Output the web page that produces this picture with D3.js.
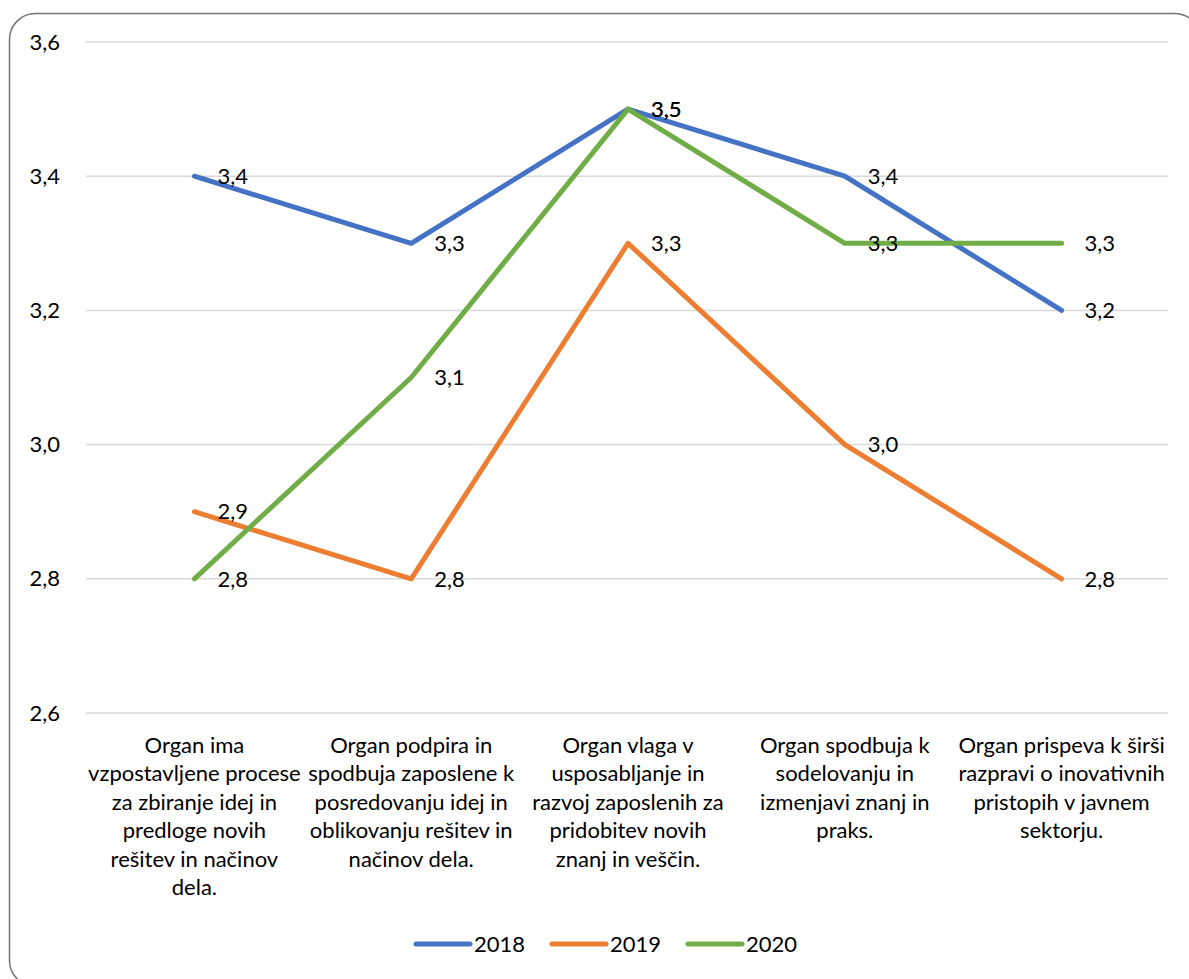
<!DOCTYPE html>
<html>
<head>
<meta charset="utf-8">
<script src="https://cdn.jsdelivr.net/npm/d3@7"></script>
<style>
  body { margin: 0; background: #fff; }
  text { font-family: Lato, "Open Sans", sans-serif; fill: #000; }
</style>
</head>
<body>
<div id="chart"></div>
<script>
var categories = [
  ['Organ ima', 'vzpostavljene procese', 'za zbiranje idej in', 'predloge novih', 'rešitev in načinov', 'dela.'],
  ['Organ podpira in', 'spodbuja zaposlene k', 'posredovanju idej in', 'oblikovanju rešitev in', 'načinov dela.'],
  ['Organ vlaga v', 'usposabljanje in', 'razvoj zaposlenih za', 'pridobitev novih', 'znanj in veščin.'],
  ['Organ spodbuja k', 'sodelovanju in', 'izmenjavi znanj in', 'praks.'],
  ['Organ prispeva k širši', 'razpravi o inovativnih', 'pristopih v javnem', 'sektorju.']
];
var years = ['2018', '2019', '2020'];
var values2018 = [3.4, 3.3, 3.5, 3.4, 3.2];
var values2019 = [2.9, 2.8, 3.3, 3.0, 2.8];
var values2020 = [2.8, 3.1, 3.5, 3.3, 3.3];
var colors = ['#4472C4', '#ED7D31', '#70AD47'];
var yTicks = [2.6, 2.8, 3.0, 3.2, 3.4, 3.6];

var W = 1189, H = 979;
var svg = d3.select('#chart').append('svg').attr('width', W).attr('height', H);

// chart frame (runs off the right and bottom edges)
svg.append('rect')
  .attr('x', 9.5).attr('y', 13.5)
  .attr('width', 1191).attr('height', 973)
  .attr('rx', 26).attr('ry', 26)
  .attr('fill', 'none').attr('stroke', '#767676').attr('stroke-width', 1.5);

var pLeft = 86, pRight = 1170, pTop = 42, pBottom = 713;
var fmt = function(v){ return d3.format('.1f')(v).replace('.', ','); };

var x = d3.scaleBand().domain(d3.range(categories.length)).range([pLeft, pRight]);
var y = d3.scaleLinear().domain([2.6, 3.6]).range([pBottom, pTop]);

// gridlines
svg.append('g').selectAll('line')
  .data(yTicks)
  .enter()
  .append('line')
    .attr('x1', pLeft).attr('x2', pRight - 2)
    .attr('y1', function(d){ return y(d); })
    .attr('y2', function(d){ return y(d); })
    .attr('stroke', '#d9d9d9').attr('stroke-width', 1.5);

// y axis labels
var yAxis = d3.axisLeft(y).tickValues(yTicks).tickFormat(fmt).tickSize(0).tickPadding(0);
var ya = svg.append('g').attr('transform', 'translate(60,0)').call(yAxis);
ya.select('.domain').remove();
ya.selectAll('text').style('font-family', 'Lato, sans-serif').style('font-size', '22px').attr('fill', '#000');

// category labels
var cat = svg.append('g').selectAll('text')
  .data(categories)
  .enter()
  .append('text')
    .attr('text-anchor', 'middle')
    .attr('x', function(d, i){ return x(i) + x.bandwidth() / 2; })
    .attr('y', 753)
    .style('font-size', '22px');
cat.selectAll('tspan')
  .data(function(d){ return d; })
  .enter()
  .append('tspan')
    .attr('x', function(){ return d3.select(this.parentNode).attr('x'); })
    .attr('dy', function(d, i){ return i ? 28.4 : 0; })
    .text(function(d){ return d; });

var series = [values2018, values2019, values2020];
var line = d3.line()
  .x(function(d, i){ return x(i) + x.bandwidth() / 2; })
  .y(function(d){ return y(d); });

svg.append('g').selectAll('path')
  .data(series)
  .enter()
  .append('path')
    .attr('d', line)
    .attr('fill', 'none')
    .attr('stroke', function(d, i){ return colors[i]; })
    .attr('stroke-width', 5)
    .attr('stroke-linejoin', 'round')
    .attr('stroke-linecap', 'round');

// data labels
series.forEach(function(s, si){
  svg.append('g').selectAll('text')
    .data(s)
    .enter()
    .append('text')
      .attr('x', function(d, i){ return x(i) + x.bandwidth() / 2 + 23; })
      .attr('y', function(d){ return y(d); })
      .attr('dy', '0.35em')
      .style('font-size', '22px')
      .text(fmt);
});

// legend
var legend = svg.append('g').attr('transform', 'translate(0,944)');
var lg = legend.selectAll('g')
  .data(years)
  .enter()
  .append('g')
    .attr('transform', function(d, i){ return 'translate(' + (416 + i * 136) + ',0)'; });
lg.append('line')
  .attr('x1', 0).attr('x2', 54)
  .attr('stroke', function(d, i){ return colors[i]; })
  .attr('stroke-width', 5).attr('stroke-linecap', 'round');
lg.append('text')
  .attr('x', 58).attr('dy', '0.35em')
  .style('font-size', '22px')
  .text(function(d){ return d; });
</script>
</body>
</html>
